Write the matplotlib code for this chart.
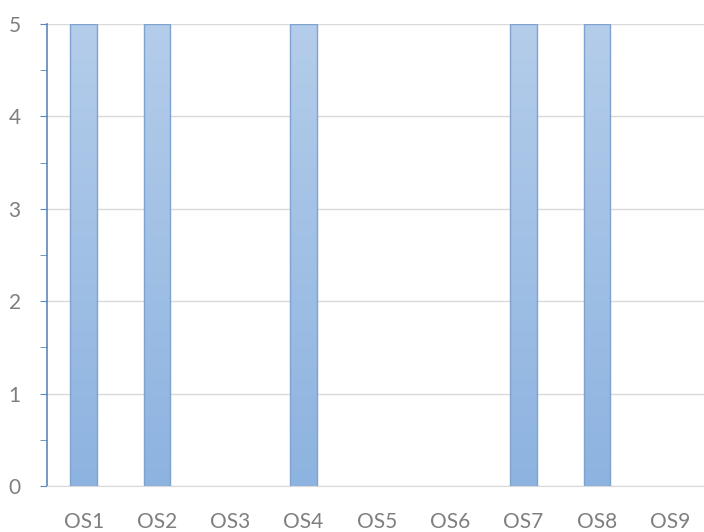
import numpy as np
import matplotlib.pyplot as plt
from matplotlib.colors import LinearSegmentedColormap

categories = ['OS1', 'OS2', 'OS3', 'OS4', 'OS5', 'OS6', 'OS7', 'OS8', 'OS9']
values = [5, 5, 0, 5, 0, 0, 5, 5, 0]

plt.rcParams['font.family'] = ['Lato', 'DejaVu Sans']

fig = plt.figure(figsize=(7.04, 5.32), dpi=100)
ax = fig.add_axes([0.0668, 0.0865, 0.937, 0.8685])

x = np.arange(len(categories))
bars = ax.bar(x, values, width=0.36, color='none', edgecolor='#7ea3cf', linewidth=1.0, zorder=3)

# vertical gradient fill for each bar
grad = LinearSegmentedColormap.from_list('g', ['#8db3e0', '#b4cdea'])
gimg = np.linspace(0, 1, 256).reshape(-1, 1)
for b in bars:
    if b.get_height() <= 0:
        b.set_visible(False)
        continue
    x0, w, h = b.get_x(), b.get_width(), b.get_height()
    im = ax.imshow(gimg, cmap=grad, origin='lower', aspect='auto',
                   extent=[x0, x0 + w, 0, h], zorder=2)
    im.set_clip_path(b)

ax.set_xlim(-0.5, len(categories) - 0.5)
ax.set_ylim(0, 5)

ax.set_yticks(range(6))
ax.set_yticks(np.arange(0.5, 5, 1), minor=True)
ax.set_xticks(x)
ax.set_xticklabels(categories)

ax.grid(axis='y', color='#d9d9d9', linewidth=1, zorder=0)
ax.set_axisbelow(True)

for s in ['top', 'right']:
    ax.spines[s].set_visible(False)
ax.spines['left'].set_color('#5b87bd')
ax.spines['left'].set_linewidth(1.2)
ax.spines['bottom'].set_color('#d9d9d9')

ax.tick_params(axis='y', which='both', direction='out', length=5, color='#5b87bd',
               labelsize=15, labelcolor='#7f7f7f', pad=14)
ax.tick_params(axis='x', length=0, labelsize=15, labelcolor='#7f7f7f', pad=19)

fig.savefig('out.png', dpi=100)
